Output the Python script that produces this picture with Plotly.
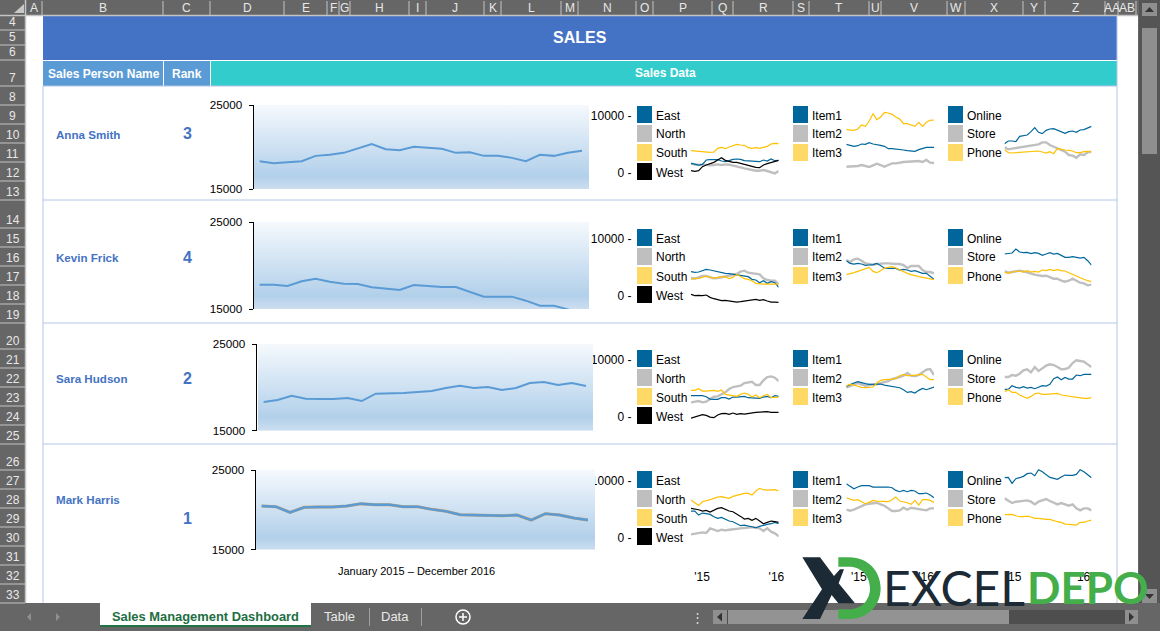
import plotly.graph_objects as go

W = 1160
H = 631

#Sheet text
people = ['Anna Smith', 'Kevin Frick', 'Sara Hudson', 'Mark Harris']
ranks = ['3', '4', '2', '1']
region_names = ['East', 'North', 'South', 'West']
item_names = ['Item1', 'Item2', 'Item3']
channel_names = ['Online', 'Store', 'Phone']
months = list(range(24))

#Total sales (big charts)
anna_total = [18307, 18068, 18187, 18307, 18944, 19064, 19303, 19781, 20339, 19741, 19622, 20020, 19900, 19781, 19303, 19382, 18944, 18944, 18705, 18307, 19064, 18944, 19303, 19542]
kevin_total = [17797, 17797, 17644, 18180, 18487, 18142, 17912, 17874, 17490, 17299, 17184, 17759, 17644, 17529, 17529, 16954, 16418, 16418, 16418, 15958, 15383, 15383, 14960, 14300]
sara_total = [18308, 18538, 19038, 18692, 18654, 18654, 18769, 18423, 19269, 19269, 19346, 19462, 19577, 19923, 20192, 19923, 20038, 19692, 19923, 20500, 20615, 20269, 20500, 20154]
mark_total = [20481, 20397, 19686, 20314, 20356, 20356, 20481, 20774, 20649, 20649, 20397, 20397, 20063, 19812, 19393, 19351, 19268, 19268, 19351, 18724, 19519, 19351, 18975, 18724]

#Anna
anna_east = [1622, 1447, 1330, 1447, 2208, 2266, 2325, 2266, 2032, 1915, 2090, 2325, 2383, 2325, 2090, 2032, 1915, 1857, 1915, 2208, 2032, 2383, 2090, 2149]
anna_north = [1564, 1505, 1330, 1447, 1330, 1272, 1330, 1447, 1330, 1447, 1389, 1272, 1096, 920, 745, 570, 394, 335, 335, 452, 277, 43, -133, 277]
anna_south = [3845, 3787, 3670, 3612, 3553, 3553, 3612, 4255, 4430, 4196, 4489, 4723, 4957, 4840, 4781, 4372, 4255, 4372, 4255, 4430, 4606, 5015, 5132, 5074]
anna_west = [335, 218, 335, 1037, 1330, 1564, 1798, 2208, 2617, 2149, 1915, 1798, 1798, 1622, 1447, 1213, 1037, 920, 862, 1330, 1564, 1740, 1915, 2149]
anna_item1 = [4957, 4782, 4606, 4723, 5015, 4957, 5250, 5015, 4957, 4782, 4606, 4196, 4196, 4138, 4138, 3963, 3845, 3787, 3729, 4021, 4255, 4430, 4430, 4430]
anna_item2 = [1037, 1037, 1096, 1155, 1330, 1096, 979, 1272, 1564, 1330, 1037, 1330, 1622, 1622, 1798, 1857, 1915, 1915, 1915, 2032, 1857, 2208, 1740, 1681]
anna_item3 = [7531, 7414, 7414, 7648, 8350, 8116, 9052, 10339, 9286, 9754, 10573, 10456, 10222, 9754, 9403, 8584, 8584, 8350, 8116, 8818, 8116, 8818, 9169, 9228]
anna_online = [5074, 5542, 5542, 5425, 6361, 6419, 6595, 7180, 7882, 7063, 6829, 7414, 7648, 7706, 7414, 7063, 6888, 7180, 7297, 7063, 7472, 7531, 7882, 8116]
anna_store = [4430, 4080, 4196, 4313, 4430, 4606, 4723, 4723, 4840, 4957, 5308, 5308, 4840, 4548, 4255, 3904, 3670, 3085, 2968, 2617, 3202, 3085, 3553, 3670]
anna_phone = [4021, 3494, 3436, 3494, 3612, 3612, 3670, 3729, 3729, 3787, 3612, 3436, 3670, 3319, 4255, 4080, 3963, 3904, 3787, 3494, 3494, 3670, 3729, 3612]

#Kevin
kevin_east = [4213, 4095, 4154, 4388, 4622, 4505, 4330, 4271, 4037, 3920, 3861, 3745, 3686, 3569, 3510, 3335, 2867, 2750, 2282, 2633, 2165, 2458, 2282, 1463]
kevin_north = [3101, 2984, 3218, 3452, 3452, 3218, 3043, 3101, 3218, 3335, 3452, 3569, 3803, 4213, 4388, 4037, 3920, 3920, 3745, 3043, 2750, 2633, 2633, 2048]
kevin_south = [2867, 3101, 2984, 3218, 3452, 3218, 3101, 3218, 3218, 3335, 2984, 3218, 3745, 3335, 2984, 2867, 2633, 2165, 2048, 2048, 2048, 2048, 1990, 2048]
kevin_west = [235, 1, 59, 1, 118, -292, -526, -702, -877, -819, -936, -1111, -1111, -1053, -936, -936, -760, -643, -819, -702, -936, -1111, -1111, -1170]
kevin_item1 = [6143, 5675, 5558, 5675, 5558, 5324, 5383, 5441, 5675, 5207, 4856, 4798, 4739, 4798, 4505, 4622, 4505, 4271, 4388, 4154, 3920, 3920, 3452, 2867]
kevin_item2 = [6260, 5909, 6377, 6494, 6143, 5675, 5558, 5441, 5558, 5675, 5675, 5675, 5558, 5558, 5558, 5383, 4856, 5207, 5207, 5207, 4505, 4154, 4154, 3920]
kevin_item3 = [3686, 3803, 4037, 4271, 4505, 4622, 4973, 4271, 4037, 4388, 4856, 4973, 5090, 4856, 4505, 4213, 3920, 3686, 3452, 3335, 3218, 3043, 2867, 2809]
kevin_online = [7313, 7430, 7489, 8191, 7664, 7547, 7606, 7372, 7547, 7430, 7079, 7313, 7547, 7313, 7430, 7079, 6728, 6728, 6845, 6728, 6611, 6728, 6143, 5383]
kevin_store = [4330, 4037, 4154, 4271, 4388, 4271, 4037, 3920, 3686, 3569, 3452, 3510, 3218, 2984, 2984, 2633, 2458, 2633, 2984, 2633, 2282, 2165, 1814, 1931]
kevin_phone = [4095, 3920, 4154, 4213, 4330, 4154, 4388, 4154, 4271, 4154, 4505, 4388, 4622, 4388, 4564, 4388, 4330, 4037, 3686, 3452, 3160, 2867, 2633, 2458]

#Sara
sara_east = [3683, 3683, 3683, 3683, 3508, 3098, 3040, 3040, 3332, 3332, 3098, 3449, 3449, 3566, 3566, 3332, 3332, 3215, 3215, 3449, 3566, 3332, 3683, 3566]
sara_north = [2513, 2689, 2747, 2513, 2630, 3098, 3508, 3566, 3917, 4268, 4853, 5204, 5321, 5438, 5906, 6023, 6140, 5555, 5555, 6374, 6959, 7076, 6842, 6257]
sara_south = [4619, 4619, 4912, 4502, 4502, 4502, 4619, 4443, 4677, 3917, 3800, 3683, 3566, 3917, 4151, 3917, 3449, 3800, 3332, 3683, 3917, 3332, 3332, 3449]
sara_west = [-237, -61, 115, 349, 232, -61, -178, 290, 524, 583, 407, 641, 407, 524, 466, 583, 758, 758, 816, 875, 875, 758, 758, 758]
sara_item1 = [5321, 5672, 5906, 6140, 5906, 5789, 5672, 5731, 5731, 5731, 5555, 5438, 5321, 5321, 5087, 4736, 4268, 4385, 4151, 4619, 4970, 4736, 4970, 5204]
sara_item2 = [5087, 5438, 5672, 5906, 5672, 5438, 5555, 5555, 5672, 5906, 6023, 6257, 6608, 6725, 6959, 7193, 7661, 7193, 7076, 7310, 7778, 8246, 8363, 7310]
sara_item3 = [5438, 5672, 5555, 5321, 5146, 5087, 5087, 5204, 5906, 6374, 6491, 6491, 6608, 6725, 7193, 7427, 7193, 7193, 7310, 7310, 7427, 6959, 6491, 6491]
sara_online = [4795, 4795, 5438, 5146, 5028, 5262, 5028, 5146, 4912, 5204, 5438, 5380, 5672, 6666, 6959, 6491, 6900, 6608, 6608, 7310, 7193, 7427, 7427, 7427]
sara_store = [6959, 6959, 7310, 7193, 7544, 8129, 8305, 7778, 8714, 8012, 8480, 8948, 9182, 9065, 8714, 8305, 8363, 8597, 9416, 9884, 9767, 9650, 9182, 8714]
sara_phone = [4385, 4736, 4268, 4268, 3800, 3566, 3215, 3566, 4034, 4151, 3917, 3917, 3976, 3976, 4092, 3800, 3683, 3566, 3508, 3390, 3332, 3215, 3215, 3332]

#Mark
mark_east = [4677, 4677, 3975, 4326, 4209, 4092, 3682, 3390, 3566, 3273, 2922, 2805, 2454, 2103, 2220, 2044, 1869, 1752, 1986, 2220, 2337, 2454, 2688, 2454]
mark_north = [582, 699, 816, 933, 816, 1635, 1401, 1167, 1401, 1284, 1401, 1518, 1518, 1635, 1693, 1752, 1869, 1752, 1635, 1167, 1635, 1050, 757, 231]
mark_south = [6608, 6140, 5672, 6315, 6432, 6666, 6900, 7134, 7192, 7017, 6900, 7251, 7368, 7602, 7777, 7777, 7485, 8187, 8655, 8421, 8362, 8421, 8421, 8187]
mark_west = [5145, 5086, 4911, 4677, 4794, 4501, 4794, 5145, 5262, 4911, 4677, 4560, 4209, 3741, 3273, 3390, 3039, 3390, 2922, 2454, 2688, 2922, 2805, 2688]
mark_item1 = [9474, 9006, 8596, 8889, 9123, 9123, 9123, 8889, 8889, 8947, 8947, 8889, 8772, 8304, 8070, 8304, 8070, 8304, 8187, 7719, 7719, 7836, 7485, 7017]
mark_item2 = [4911, 4735, 4911, 5262, 5496, 5847, 5964, 6081, 6139, 5847, 5613, 5145, 4677, 4677, 4794, 5262, 4911, 5262, 5145, 5145, 4911, 4794, 5145, 5145]
mark_item3 = [7017, 6783, 6549, 6666, 6315, 5964, 6198, 6549, 6432, 6373, 6256, 6315, 6666, 7134, 6432, 6315, 6139, 5847, 6549, 5730, 6666, 6666, 6549, 6198]
mark_online = [10527, 10585, 9532, 10351, 10527, 10761, 11229, 11346, 10878, 11931, 11580, 10995, 10585, 10410, 10234, 10644, 10995, 10936, 10936, 11112, 11931, 11580, 10995, 10527]
mark_store = [6900, 6432, 6081, 6315, 6432, 6432, 6549, 6315, 5847, 6315, 6549, 6783, 6432, 6081, 5847, 6081, 5847, 5613, 5847, 5145, 4794, 5145, 5145, 4794]
mark_phone = [4034, 4092, 4092, 3858, 3682, 3682, 3799, 3624, 3390, 3390, 3273, 3214, 3214, 2980, 2805, 2688, 2395, 2337, 2220, 2220, 2688, 2688, 2922, 3097]

#Excel frame
col_labels = ['A', 'B', 'C', 'D', 'E', 'F', 'G', 'H', 'I', 'J', 'K', 'L', 'M', 'N', 'O', 'P', 'Q', 'R', 'S', 'T', 'U', 'V', 'W', 'X', 'Y', 'Z', 'AA', 'AB']
col_edges = [25, 42, 163, 210, 284, 327, 339, 350, 409, 426, 484, 501, 561, 578, 636, 653, 712, 733, 793, 809, 869, 881, 947, 965, 1023, 1045, 1105, 1118, 1136]
row_labels = [str(n) for n in range(4, 34)]
row_edges = [16, 30, 45, 60, 86, 105, 124, 143, 162, 181, 200, 228, 247, 266, 285, 304, 323, 349, 368, 387, 406, 425, 444, 470, 489, 508, 527, 546, 565, 584, 603]

BLUE = '#00669B'
GRAY = '#BFBFBF'
YELLOW = '#FFC000'
SWATCH_YELLOW = '#FFD966'
BIG_LINE = '#5B9BD5'
NAME_BLUE = '#4472C4'
FONT = 'Liberation Sans'


def px(x):
    return x / W


def py(y):
    return 1 - y / H


shapes = []
notes = []


def box(x0, y0, x1, y1, color, layer='below'):
    shapes.append(dict(type='rect', xref='paper', yref='paper', x0=px(x0), x1=px(x1), y0=py(y1), y1=py(y0),
                       fillcolor=color, line_width=0, layer=layer))


def rule(x0, y0, x1, y1, color, width=1, layer='below'):
    shapes.append(dict(type='line', xref='paper', yref='paper', x0=px(x0), x1=px(x1), y0=py(y0), y1=py(y1),
                       line=dict(color=color, width=width), layer=layer))


def poly(points, color, layer='below'):
    d = 'M' + ' L'.join(f'{px(x):.5f},{py(y):.5f}' for x, y in points) + ' Z'
    shapes.append(dict(type='path', xref='paper', yref='paper', path=d, fillcolor=color, line_width=0, layer=layer))


def label(x, y, s, size=12, color='black', bold=False, anchor='center', family=FONT):
    notes.append(dict(xref='paper', yref='paper', x=px(x), y=py(y), text=f'<b>{s}</b>' if bold else s,
                      showarrow=False, xanchor=anchor, yanchor='middle', borderpad=0, borderwidth=0,
                      font=dict(family=family, size=size, color=color)))


#White sheet and table
box(25, 16, 1138, 603, 'white')
box(43, 16, 1117, 60, NAME_BLUE)
box(43, 61, 163, 86, BIG_LINE)
box(164, 61, 210, 86, BIG_LINE)
box(211, 61, 1117, 86, '#33CCCC')
for y in [86, 200, 323, 444]:
    rule(43, y, 1117, y, '#B4C6E7')
rule(43, 86, 43, 603, '#B4C6E7')
rule(1117, 16, 1117, 603, '#B4C6E7')
label(580, 38, 'SALES', 16, 'white', True)
label(103.5, 73.5, 'Sales Person Name', 12, 'white', True)
label(187, 73.5, 'Rank', 12, 'white', True)
label(665, 73, 'Sales Data', 12, 'white', True)

#Column and row headers
rule(0, 15.5, 1138, 15.5, '#C4C4C4', 1.5)
rule(25.5, 0, 25.5, 603, '#C4C4C4', 1.5)
poly([(24, 4), (24, 13), (14, 13)], '#C8C8C8')
for i, name in enumerate(col_labels):
    rule(col_edges[i + 1], 1, col_edges[i + 1], 15, '#C4C4C4')
    label((col_edges[i] + col_edges[i + 1]) / 2, 8.5, name, 12, '#E8E8E8')
for i, name in enumerate(row_labels):
    rule(0, row_edges[i + 1], 25, row_edges[i + 1], '#C4C4C4')
    label(12.5, row_edges[i + 1] - 8, name, 12, '#E8E8E8')

#Scrollbars
box(1139, 0, 1160, 603, '#555555')
box(1142, 3, 1157, 16, '#8F8F8F')
poly([(1149.5, 7), (1145, 12), (1154, 12)], '#333333')
box(1142, 28, 1157, 154, '#8F8F8F')
box(1142, 589, 1157, 603, '#8F8F8F')
poly([(1149.5, 599), (1145, 594), (1154, 594)], '#333333')
box(713, 610, 1138, 624, '#4E4E4E')
box(728, 610, 1009, 624, '#939393')
box(713, 610, 727, 624, '#8F8F8F')
box(1125, 610, 1138, 624, '#8F8F8F')
poly([(717, 617), (722, 612.5), (722, 621.5)], '#333333')
poly([(1134, 617), (1129, 612.5), (1129, 621.5)], '#333333')
label(697, 617, '⋮', 13, '#DDDDDD')

#Sheet tabs
box(100, 603, 311, 626, 'white')
rule(100, 626, 311, 626, '#217346', 2)
label(205.5, 616, 'Sales Management Dashboard', 12.9, '#1E6E42', True)
label(340, 616, 'Table', 13, '#E8E8E8')
label(395, 616, 'Data', 13, '#E8E8E8')
rule(369.5, 608, 369.5, 626, '#A0A0A0')
rule(421.5, 608, 421.5, 626, '#A0A0A0')
poly([(27, 617), (31, 613), (31, 621)], '#909090')
poly([(60, 617), (56, 613), (56, 621)], '#909090')
shapes.append(dict(type='circle', xref='paper', yref='paper', x0=px(456), x1=px(470), y0=py(624), y1=py(610),
                   line=dict(color='white', width=1.5), layer='below'))
rule(459, 617, 467, 617, 'white', 1.5)
rule(463, 613, 463, 621, 'white', 1.5)

#Names and ranks
name_y = [134.7, 257.5, 378.7, 499.7]
rank_y = [134, 257.5, 378, 518]
for who, rank, yn, yr in zip(people, ranks, name_y, rank_y):
    label(56, yn, who, 11.6, NAME_BLUE, True, 'left')
    label(187, yr, rank, 16, NAME_BLUE, True)
label(416.5, 571, 'January 2015 – December 2016', 11)

fig = go.Figure()

#Small charts first so the gradient panels sit on top of their tick labels
small_sets = [
    ([anna_east, anna_north, anna_south, anna_west], [anna_item1, anna_item2, anna_item3], [anna_online, anna_store, anna_phone]),
    ([kevin_east, kevin_north, kevin_south, kevin_west], [kevin_item1, kevin_item2, kevin_item3], [kevin_online, kevin_store, kevin_phone]),
    ([sara_east, sara_north, sara_south, sara_west], [sara_item1, sara_item2, sara_item3], [sara_online, sara_store, sara_phone]),
    ([mark_east, mark_north, mark_south, mark_west], [mark_item1, mark_item2, mark_item3], [mark_online, mark_store, mark_phone]),
]
zero_y = [172.6, 295.7, 416.7, 537.7]
swatch_y = [106, 229, 350, 471]
chart_x = [(691, 778.7), (846.3, 934), (1004.5, 1091.5)]
swatch_x = [637, 793, 948]
name_sets = [region_names, item_names, channel_names]
year_ticks = [[2.9, 22.4], [3.3, 20.9], [2.4, 20.6]]
#57 px for 10000, the range is a bit wider than the ticks so nothing gets clipped
PX_PER_UNIT = 57 / 10000
LOW = -2000
HIGH = 12500

layout = {}
n = 0
for row in range(4):
    for c in range(3):
        n += 1
        xa = f'x{n}' if n > 1 else 'x'
        ya = f'y{n}' if n > 1 else 'y'
        xkey = f'xaxis{n}'
        ykey = f'yaxis{n}'
        colors = [BLUE, GRAY, YELLOW, 'black'][:len(small_sets[row][c])]
        #gray is drawn first, it is the thick one
        order = sorted(range(len(colors)), key=lambda k: colors[k] != GRAY)
        for k in order:
            fig.add_trace(go.Scatter(x=months, y=small_sets[row][c][k], mode='lines', xaxis=xa, yaxis=ya,
                                     hoverinfo='skip',
                                     line=dict(color=colors[k], width=2.4 if colors[k] == GRAY else 1.2)))
        x_axis = dict(domain=[px(chart_x[c][0]), px(chart_x[c][1])], range=[0, 23], anchor=ya, automargin=False,
                      showgrid=False, zeroline=False, showline=False, ticks='')
        if row == 3:
            x_axis.update(tickvals=year_ticks[c], ticktext=["'15", "'16"], ticklabelstandoff=19,
                          tickfont=dict(family=FONT, size=12, color='black'))
        else:
            x_axis.update(showticklabels=False)
        layout[xkey] = x_axis
        y_axis = dict(domain=[py(zero_y[row] - LOW * PX_PER_UNIT), py(zero_y[row] - HIGH * PX_PER_UNIT)],
                      range=[LOW, HIGH], anchor=xa, automargin=False, showgrid=False, zeroline=False,
                      showline=False, ticks='')
        if c == 0:
            y_axis.update(anchor='free', position=px(631.5), tickvals=[0, 10000], ticktext=['0 -', '10000 -'],
                          tickfont=dict(family=FONT, size=12, color='black'))
        else:
            y_axis.update(showticklabels=False)
        layout[ykey] = y_axis
        #legend swatches
        colors2 = [BLUE, GRAY, SWATCH_YELLOW, 'black']
        for k, name in enumerate(name_sets[c]):
            top = swatch_y[row] + 19 * k
            box(swatch_x[c], top, swatch_x[c] + 15, top + 17, colors2[k])
            label(swatch_x[c] + 19, top + 9.5, name, 12, 'black', False, 'left')

#Big charts
totals = [anna_total, kevin_total, sara_total, mark_total]
big_top = [105, 222, 344, 470]
big_bottom = [189, 309, 430.7, 549.7]
big_left = [254, 254, 258, 256]
big_right = [589, 589, 593, 595]
axis_x = [252.5, 252.5, 255.5, 254.5]
band = ['#CCDEF0', '#B2D0EA', '#F5F9FD']
for row in range(4):
    n += 1
    xa = f'x{n}'
    ya = f'y{n}'
    fig.add_trace(go.Scatter(x=[-1, 24, 24, -1], y=[15000, 15000, 25000, 25000], mode='lines', fill='toself',
                             xaxis=xa, yaxis=ya, line=dict(width=0), hoverinfo='skip',
                             fillgradient=dict(type='vertical', colorscale=[[0, band[0]], [0.15, band[1]], [1, band[2]]])))
    if row == 3:
        fig.add_trace(go.Scatter(x=months, y=totals[row], mode='lines', xaxis=xa, yaxis=ya, hoverinfo='skip',
                                 line=dict(color='#C9A26B', width=3)))
    fig.add_trace(go.Scatter(x=months, y=totals[row], mode='lines', xaxis=xa, yaxis=ya, hoverinfo='skip',
                             line=dict(color=BIG_LINE, width=2.4 if row == 3 else 2)))
    layout[f'xaxis{n}'] = dict(domain=[px(big_left[row]), px(big_right[row])], range=[-0.4, 23.5], anchor=ya,
                               automargin=False, visible=False)
    layout[f'yaxis{n}'] = dict(domain=[py(big_bottom[row]), py(big_top[row])], range=[15000, 25000], anchor='free',
                               position=px(axis_x[row]), automargin=False, showgrid=False, zeroline=False, showline=True,
                               linecolor='black', linewidth=1, ticks='outside', ticklen=4, tickcolor='black',
                               tickvals=[15000, 25000], ticktext=['15000', '25000'], ticklabelstandoff=4,
                               tickfont=dict(family=FONT, size=11.7, color='black'))


def z(points):
    return [(790 + a / 3, 550 + b / 3) for a, b in points]


poly(z([(37, 22), (90, 22), (132, 78), (150, 58), (162, 58), (146, 100), (195, 160), (145, 160), (125, 135),
        (90, 207), (37, 207), (96, 118)]), '#1B2A35', 'above')
p = lambda a, b: f'{px(790 + a / 3):.5f},{py(550 + b / 3):.5f}'
shapes.append(dict(type='path', xref='paper', yref='paper', fillcolor='#43AE4A', line_width=0, layer='above',
                   path=f'M{p(145, 22)} L{p(178, 22)} C{p(235, 22)} {p(272, 65)} {p(272, 115)} '
                        f'C{p(272, 165)} {p(235, 207)} {p(178, 207)} L{p(145, 207)} L{p(145, 178)} L{p(178, 178)} '
                        f'C{p(215, 178)} {p(240, 150)} {p(240, 115)} C{p(240, 80)} {p(215, 50)} {p(178, 50)} L{p(145, 50)} Z'))
label(954, 587, 'EXCEL', 48, '#1B2A35', family='Lato')
label(1088, 587, 'DEPO', 44, '#43AE4A', True, family='Lato')

fig.update_layout(width=W, height=H, margin=dict(l=0, r=0, t=0, b=0), showlegend=False,
                  paper_bgcolor='#666666', plot_bgcolor='rgba(0,0,0,0)', shapes=shapes, annotations=notes, **layout)

#no page margin and no toolbar, the picture fills the window
fig.write_html('out.html', post_script="document.body.style.margin='0'", config={'displayModeBar': False})
